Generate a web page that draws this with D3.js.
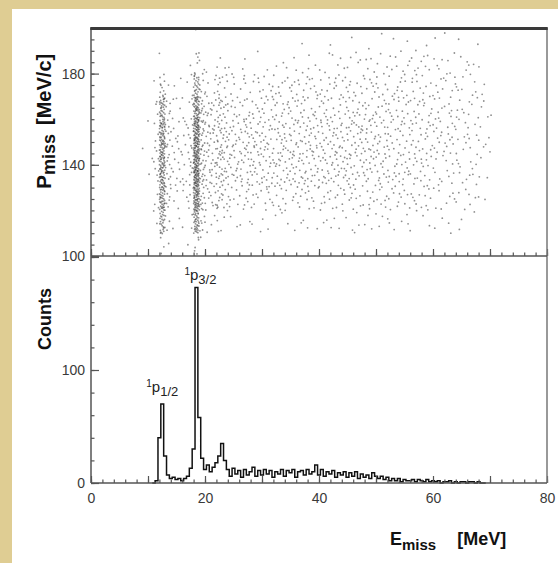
<!DOCTYPE html>
<html>
<head>
<meta charset="utf-8">
<script src="https://cdn.jsdelivr.net/npm/d3@7"></script>
<style>
  html, body { margin: 0; padding: 0; background: #fff; }
  svg { display: block; }
</style>
</head>
<body>
<svg id="chart" width="558" height="563"></svg>
<script>
// ---- Missing-energy spectrum: counts per 0.5 MeV bin, bin centres from 11.0 MeV ----
const histStart = 11.0;
const histBinWidth = 0.5;
const histCounts = [
  0, 2, 40, 70, 24, 7, 4, 5, 3, 4,          // 11.0 - 15.5
  2, 4, 6, 13, 30, 173, 58, 22, 12, 16,     // 16.0 - 20.5
  10, 14, 18, 24, 35, 20, 12, 6, 13, 8,     // 21.0 - 25.5
  11, 5, 12, 7, 10, 14, 6, 11, 7, 12,       // 26.0 - 30.5
  8, 11, 5, 10, 8, 12, 6, 11, 9, 12,        // 31.0 - 35.5
  5, 10, 11, 7, 12, 8, 10, 16, 7, 12,       // 36.0 - 40.5
  6, 10, 8, 11, 5, 9, 7, 10, 5, 9,          // 41.0 - 45.5
  6, 10, 4, 8, 5, 7, 4, 9, 6, 4,            // 46.0 - 50.5
  6, 3, 5, 2, 4, 2, 4, 1, 3, 2,             // 51.0 - 55.5
  2, 3, 1, 3, 2, 1, 3, 1, 2, 1,             // 56.0 - 60.5
  2, 0, 1, 1, 2, 0, 1, 0, 1, 1,             // 61.0 - 65.5
  0, 1, 1, 0, 1, 0, 0                       // 66.0 - 69.0
];

// ---- Pmiss vs Emiss: event counts per cell (1 MeV wide in Emiss, 10 MeV/c tall in Pmiss) ----
const scatterEStart = 8;       // first column starts at 8 MeV
const scatterEWidth = 1;
const scatterPHeight = 10;
const scatterPRows = [190, 180, 170, 160, 150, 140, 130, 120, 110, 100];
const scatterCounts = [
  // E: 8..15 | 16..23 | 24..31 | 32..39 | 40..47 | 48..55 | 56..63 | 64..71
  [0,0,0,0,0,0,0,0, 0,0,1,0,0,0,0,0, 0,0,0,0,0,0,0,0, 0,0,0,0,0,1,0,0, 0,0,1,0,0,1,0,0, 1,0,0,1,0,1,0,1, 0,1,1,0,1,0,1,0, 1,0,0,1,0,0,0,0],
  [0,0,0,0,1,0,0,0, 0,1,5,2,1,0,2,1, 1,0,1,1,0,1,1,0, 1,1,1,1,1,1,2,1, 1,2,1,2,1,2,2,1, 2,2,2,1,2,2,2,2, 2,2,2,2,2,2,1,2, 1,1,2,1,1,0,0,0],
  [0,0,0,1,9,2,1,1, 1,2,24,6,3,3,5,4, 2,2,3,2,2,3,2,3, 3,3,3,3,3,3,3,3, 3,3,3,3,3,3,3,3, 3,3,3,3,3,3,3,3, 3,3,3,2,3,3,2,3, 2,2,2,2,1,1,0,0],
  [0,0,0,3,30,5,2,2, 2,4,45,10,5,5,8,6, 4,4,4,4,4,4,4,4, 4,4,4,4,4,4,4,4, 4,4,4,4,4,4,4,4, 4,4,4,4,4,4,4,3, 4,3,3,3,3,3,3,3, 3,2,3,2,2,1,1,0],
  [0,0,1,3,40,6,3,3, 3,5,58,12,6,6,10,7, 5,5,5,6,5,5,5,5, 5,6,5,5,5,5,5,5, 5,5,5,5,5,5,5,5, 5,5,5,4,4,4,4,4, 4,4,4,3,4,3,3,3, 3,2,3,2,2,1,0,0],
  [0,1,1,4,42,7,3,3, 3,6,62,12,6,6,10,7, 6,5,6,6,5,6,5,6, 5,6,5,6,5,6,5,5, 5,5,5,5,5,5,5,5, 5,5,5,4,4,4,4,4, 4,4,4,3,3,3,3,3, 3,2,2,2,2,1,1,0],
  [0,0,1,4,42,6,3,3, 3,5,62,12,6,6,10,7, 5,5,5,5,6,5,5,5, 5,5,5,5,5,5,5,5, 5,5,5,5,5,5,4,4, 4,4,4,4,4,4,4,4, 3,3,3,3,3,2,2,2, 2,2,2,2,1,1,0,0],
  [0,0,0,3,38,5,2,2, 2,4,55,10,5,5,7,5, 3,3,3,4,3,3,3,3, 3,3,3,3,3,3,3,3, 3,3,3,3,3,3,3,3, 3,3,3,3,3,3,3,3, 3,3,2,3,2,2,2,2, 2,2,2,1,1,1,0,0],
  [0,0,0,2,24,3,1,1, 1,2,36,5,2,2,3,2, 1,1,1,1,1,1,1,1, 1,1,1,1,1,1,1,1, 1,1,2,1,2,1,2,1, 2,1,2,1,2,1,1,2, 1,1,1,1,1,1,1,1, 1,1,0,1,0,0,0,0],
  [0,0,0,0,4,1,0,0, 0,1,5,1,0,0,0,0, 0,0,0,0,0,0,0,0, 0,0,0,0,0,0,0,0, 0,0,0,0,0,0,0,0, 0,0,0,0,0,0,0,0, 0,0,0,0,0,0,0,0, 0,0,0,0,0,0,0,0]
];

// ---- Axis ticks ----
const eMajorTicks = [0, 10, 20, 30, 40, 50, 60, 70, 80];
const eLabelTicks = [0, 20, 40, 60, 80];
const pMajorTicks = [100, 140, 180];
const countMajorTicks = [0, 100, 200];
const countLabelTicks = [0, 100];

// ---- Peak labels ----
const peakLabels = [
  { level: "1/2", e: 12.5, count: 70 },
  { level: "3/2", e: 18.5, count: 173 }
];

(function draw() {
  const svg = d3.select("#chart");
  const W = 558, H = 563;
  const plotL = 91, plotR = 547, plotT = 28, plotMid = 256, plotB = 483;

  const x = d3.scaleLinear().domain([0, 80]).range([plotL, plotR]);
  const yP = d3.scaleLinear().domain([100, 200]).range([plotMid, plotT]);
  const yC = d3.scaleLinear().domain([0, 200]).range([plotB, 257]);

  // page frame
  svg.append("rect").attr("width", W).attr("height", H).attr("fill", "#fff");
  svg.append("rect").attr("x", 0).attr("y", 0).attr("width", W).attr("height", 9).attr("fill", "#dfcd93");
  svg.append("rect").attr("x", 0).attr("y", 0).attr("width", 12).attr("height", H).attr("fill", "#dfcd93");

  // ---- scatter: fill every cell with its event count ----
  // Points come from one low-discrepancy (Halton 2,3) sequence over the whole grid;
  // a point is kept while its cell still has events left to place.
  function halton(i, b) {
    let f = 1, r = 0;
    while (i > 0) { f /= b; r += f * (i % b); i = Math.floor(i / b); }
    return r;
  }
  const nRows = scatterPRows.length, nCols = scatterCounts[0].length;
  const pMin = d3.min(scatterPRows);
  const left = scatterCounts.map(row => row.slice());
  let remaining = d3.sum(scatterCounts, row => d3.sum(row));
  const dots = [];
  for (let i = 1; remaining > 0 && i < 400000; i++) {
    const u = halton(i, 2) * nCols, v = halton(i, 3) * nRows;
    const ci = Math.floor(u), rowFromBottom = Math.floor(v);
    const ri = nRows - 1 - rowFromBottom;
    if (left[ri][ci] > 0) {
      left[ri][ci]--;
      remaining--;
      dots.push({ e: scatterEStart + u * scatterEWidth, p: pMin + v * scatterPHeight });
    }
  }
  svg.append("g").selectAll("circle").data(dots).join("circle")
    .attr("cx", d => x(d.e))
    .attr("cy", d => yP(d.p))
    .attr("r", 0.9)
    .attr("fill", "#222")
    .attr("fill-opacity", 0.5);

  // ---- histogram as a step line ----
  const steps = histCounts.map((c, i) => [histStart + i * histBinWidth - histBinWidth / 2, c]);
  const lastEdge = histStart + (histCounts.length - 0.5) * histBinWidth;
  steps.push([lastEdge, histCounts[histCounts.length - 1]]);
  svg.append("path")
    .attr("d", d3.line().x(d => x(d[0])).y(d => yC(d[1])).curve(d3.curveStepAfter)(steps))
    .attr("fill", "none")
    .attr("stroke", "#111")
    .attr("stroke-width", 1.5);

  // ---- axes ----
  const tickColor = "#555";
  const font = "'Liberation Sans', Arial, sans-serif";
  function styleAxis(g) {
    g.select(".domain").remove();
    g.selectAll(".tick line").attr("stroke", tickColor).attr("stroke-width", 1.2);
    g.selectAll(".tick text")
      .attr("fill", "#3a3a3a")
      .attr("font-family", font)
      .attr("font-size", 14);
  }

  // Emiss ticks on both panel floors
  [plotMid, plotB].forEach(yy => {
    svg.append("g").attr("transform", `translate(0,${yy})`)
      .call(d3.axisBottom(x).ticks(40).tickSize(-3.5).tickSizeOuter(0).tickFormat(""))
      .call(styleAxis);
    svg.append("g").attr("transform", `translate(0,${yy})`)
      .call(d3.axisBottom(x).tickValues(eMajorTicks).tickSize(-7).tickSizeOuter(0).tickFormat(""))
      .call(styleAxis);
  });
  svg.append("g").attr("transform", `translate(0,${plotB})`)
    .call(d3.axisBottom(x).tickValues(eLabelTicks).tickSize(0).tickPadding(10))
    .call(styleAxis);

  // Pmiss axis
  svg.append("g").attr("transform", `translate(${plotL},0)`)
    .call(d3.axisLeft(yP).ticks(20).tickSize(-3.5).tickSizeOuter(0).tickFormat(""))
    .call(styleAxis);
  svg.append("g").attr("transform", `translate(${plotL},0)`)
    .call(d3.axisLeft(yP).tickValues(pMajorTicks).tickSize(-8).tickSizeOuter(0).tickPadding(6))
    .call(styleAxis);

  // Counts axis
  svg.append("g").attr("transform", `translate(${plotL},0)`)
    .call(d3.axisLeft(yC).ticks(8).tickSize(-3.5).tickSizeOuter(0).tickFormat(""))
    .call(styleAxis);
  svg.append("g").attr("transform", `translate(${plotL},0)`)
    .call(d3.axisLeft(yC).tickValues(countMajorTicks).tickSize(-8).tickSizeOuter(0)
      .tickFormat(d => countLabelTicks.includes(d) ? d : "").tickPadding(6))
    .call(styleAxis);

  // panel borders
  const frame = svg.append("g").attr("fill", "none");
  frame.append("line").attr("x1", plotL).attr("x2", plotL).attr("y1", plotT).attr("y2", plotB)
    .attr("stroke", "#555").attr("stroke-width", 1.5);
  frame.append("line").attr("x1", plotR).attr("x2", plotR).attr("y1", plotT).attr("y2", plotB)
    .attr("stroke", "#777").attr("stroke-width", 1.5);
  frame.append("line").attr("x1", plotL).attr("x2", plotR).attr("y1", plotMid).attr("y2", plotMid)
    .attr("stroke", "#555").attr("stroke-width", 1.5);
  frame.append("line").attr("x1", plotL).attr("x2", plotR).attr("y1", plotB).attr("y2", plotB)
    .attr("stroke", "#555").attr("stroke-width", 1.5);
  frame.append("line").attr("x1", plotL - 0.75).attr("x2", plotR + 0.75).attr("y1", plotT + 0.5).attr("y2", plotT + 0.5)
    .attr("stroke", "#3a3a3a").attr("stroke-width", 3);

  // ---- titles ----
  const pTitle = svg.append("text")
    .attr("transform", "translate(51,189) rotate(-90)")
    .attr("font-family", font).attr("font-weight", "bold").attr("fill", "#111");
  pTitle.append("tspan").attr("font-size", 21).text("P");
  pTitle.append("tspan").attr("font-size", 18).attr("dy", 4).text("miss");
  pTitle.append("tspan").attr("font-size", 20).attr("dy", -4).attr("dx", 9).text("[MeV/c]");

  svg.append("text")
    .attr("transform", "translate(51,319) rotate(-90)")
    .attr("text-anchor", "middle")
    .attr("font-family", font).attr("font-weight", "bold").attr("font-size", 18).attr("fill", "#111")
    .text("Counts");

  const eTitle = svg.append("text")
    .attr("x", 390).attr("y", 545)
    .attr("font-family", font).attr("font-weight", "bold").attr("fill", "#111");
  eTitle.append("tspan").attr("font-size", 18).text("E");
  eTitle.append("tspan").attr("font-size", 15).attr("dy", 5).text("miss");
  eTitle.append("tspan").attr("font-size", 18).attr("dy", -5).attr("dx", 21).text("[MeV]");

  // ---- peak labels (1p shells) ----
  const peakOffsets = { "1/2": { dx: -16, dy: -12 }, "3/2": { dx: -12, dy: -8 } };
  peakLabels.forEach(pk => {
    const o = peakOffsets[pk.level];
    const t = svg.append("text")
      .attr("x", x(pk.e) + o.dx)
      .attr("y", yC(pk.count) + o.dy)
      .attr("font-family", font).attr("fill", "#222");
    t.append("tspan").attr("font-size", 10).attr("dy", -5).text("1");
    t.append("tspan").attr("font-size", 15).attr("dy", 5).text("p");
    t.append("tspan").attr("font-size", 13).attr("dy", 4).text(pk.level);
  });
})();
</script>
</body>
</html>
